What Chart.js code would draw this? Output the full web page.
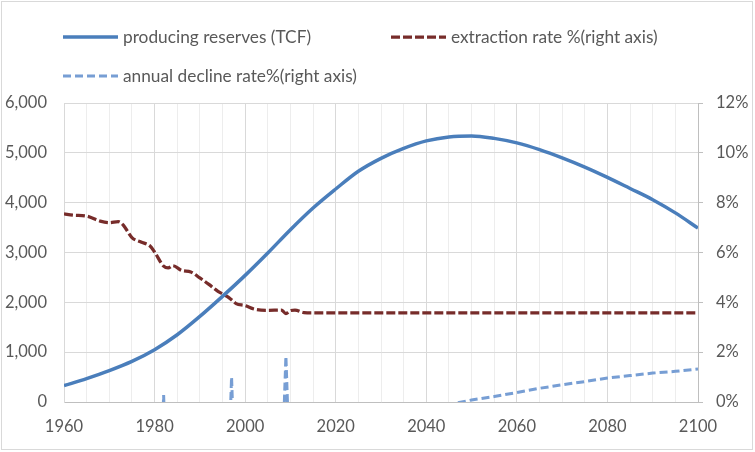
<!DOCTYPE html>
<html>
<head>
<meta charset="utf-8">
<script src="https://cdn.jsdelivr.net/npm/chart.js@4.4.1/dist/chart.umd.min.js"></script>
<style>
  html, body { margin: 0; padding: 0; background: #fff; }
  #wrap { position: relative; width: 755px; height: 452px; }
</style>
</head>
<body>
<div id="wrap"><canvas id="lineChart"></canvas></div>
<script>
// producing reserves, 5-year steps (TCF)
var reserveYears = [1960,1965,1970,1975,1980,1985,1990,1995,2000,2005,2010,2015,2020,2025,2030,
                    2035,2040,2045,2050,2055,2060,2065,2070,2075,2080,2085,2090,2095,2100];
var reserves = [327,470,630,815,1050,1350,1718,2120,2541,2990,3458,3893,4274,4630,4890,
                5090,5240,5320,5340,5290,5200,5065,4900,4715,4508,4285,4060,3795,3490];

// extraction rate (%)
var extractionYears = [1960,1962,1965,1968,1970,1972,1973,1975,1977,1979,1980,1982,1983,1984,1986,
                       1988,1990,1992,1994,1996,1997,1998,2000,2002,2005,2008,2009,2010,2011,2013,2015,2100];
var extraction = [7.55,7.5,7.46,7.26,7.2,7.24,7.12,6.6,6.42,6.26,6.02,5.45,5.38,5.47,5.28,
                  5.22,4.98,4.72,4.44,4.24,4.1,3.95,3.87,3.73,3.68,3.69,3.55,3.67,3.69,3.59,3.58,3.58];

// annual decline rate (%), negative part is below the axis
var declineYears = [1960,1965,1970,1975,1980,1981,1982,1983,1985,1990,1995,1996,1997,1998,2000,2005,
                    2008,2009,2010,2015,2020,2025,2030,2035,2040,2045,2050,2055,2060,2065,2070,2075,
                    2080,2085,2090,2095,2100];
var decline = [-8,-8,-7,-6,-5.5,-5.5,0.28,-5.5,-5.5,-5,-4.5,-4.5,1.0,-4.5,-4.5,-4,
               -3.5,1.83,-3.5,-2.5,-1.8,-1.3,-1,-0.6,-0.3,-0.1,0.08,0.22,0.38,0.55,0.69,0.82,
               0.96,1.06,1.16,1.23,1.32];

var xTicks = [1960,1980,2000,2020,2040,2060,2080,2100];
var leftTicks = [0,1000,2000,3000,4000,5000,6000];
var rightTicks = [0,2,4,6,8,10,12];

function toPoints(xs, ys) {
    var pts = [];
    for (var i = 0; i < xs.length; i++) {
        pts.push({x: xs[i], y: ys[i]});
    }
    return pts;
}

var fontFamily = 'Lato, "Liberation Sans", sans-serif';
var textColor = '#595959';
Chart.defaults.font.family = fontFamily;
Chart.defaults.font.size = 16.5;
Chart.defaults.color = textColor;

// white background + thin frame like the spreadsheet chart
var framePlugin = {
    id: 'frame',
    beforeDraw: function (chart) {
        var ctx = chart.ctx;
        ctx.save();
        ctx.fillStyle = '#fff';
        ctx.fillRect(0, 0, chart.width, chart.height);
        ctx.strokeStyle = '#d9d9d9';
        ctx.lineWidth = 1;
        ctx.strokeRect(1.5, 1.5, chart.width - 4, chart.height - 4);
        ctx.restore();
    }
};

// legend laid out in two rows, left aligned
var legendPlugin = {
    id: 'rowLegend',
    afterDraw: function (chart) {
        var ctx = chart.ctx;
        var spots = [{x: 63, y: 37}, {x: 391, y: 37}, {x: 63, y: 76}];
        ctx.save();
        ctx.font = '17.3px ' + fontFamily;
        ctx.textBaseline = 'middle';
        chart.data.datasets.forEach(function (ds, i) {
            var p = spots[i];
            ctx.beginPath();
            ctx.strokeStyle = ds.borderColor;
            ctx.lineWidth = ds.borderWidth;
            ctx.setLineDash(ds.borderDash || []);
            ctx.moveTo(p.x, p.y);
            ctx.lineTo(p.x + 55, p.y);
            ctx.stroke();
            ctx.setLineDash([]);
            ctx.fillStyle = textColor;
            ctx.fillText(ds.label, p.x + 60, p.y);
        });
        ctx.restore();
    }
};

var chartCanvas = document.getElementById('lineChart').getContext('2d');
var lineChart = new Chart(chartCanvas, {
    type: 'line',
    data: {
        datasets: [
            {
                label: 'producing reserves (TCF)',
                data: toPoints(reserveYears, reserves),
                yAxisID: 'y',
                borderColor: '#4a7ebb',
                borderWidth: 3.5,
                pointRadius: 0,
                cubicInterpolationMode: 'monotone'
            },
            {
                label: 'extraction rate %(right axis)',
                data: toPoints(extractionYears, extraction),
                yAxisID: 'y1',
                borderColor: '#772c2a',
                borderWidth: 3.25,
                borderDash: [9, 3],
                pointRadius: 0,
                cubicInterpolationMode: 'monotone'
            },
            {
                label: 'annual decline rate%(right axis)',
                data: toPoints(declineYears, decline),
                yAxisID: 'y1',
                borderColor: '#779ed4',
                borderWidth: 3,
                borderDash: [8, 4],
                pointRadius: 0,
                tension: 0,
                clip: 0
            }
        ]
    },
    options: {
        responsive: true,
        maintainAspectRatio: false,
        animation: false,
        layout: { padding: { top: 103, left: 0, right: 0, bottom: 0 } },
        plugins: {
            legend: { display: false },
            tooltip: { enabled: false }
        },
        scales: {
            x: {
                type: 'linear',
                min: 1960,
                max: 2100,
                afterFit: function (scale) { scale.height = 50; },
                afterBuildTicks: function (scale) {
                    var t = [];
                    for (var v = scale.min; v <= scale.max; v += 5) t.push({value: v});
                    scale.ticks = t;
                },
                ticks: {
                    autoSkip: false,
                    maxRotation: 0,
                    padding: 15,
                    callback: function (v) { return xTicks.indexOf(v) >= 0 ? String(v) : ''; }
                },
                grid: {
                    drawTicks: false,
                    color: function (c) {
                        return (c.tick && xTicks.indexOf(c.tick.value) >= 0) ? '#d9d9d9' : '#ededed';
                    }
                },
                border: { color: '#bfbfbf' }
            },
            y: {
                position: 'left',
                min: 0,
                max: 6000,
                afterFit: function (scale) { scale.width = 64; },
                afterBuildTicks: function (scale) {
                    scale.ticks = leftTicks.map(function (v) { return {value: v}; });
                },
                ticks: {
                    padding: 17,
                    callback: function (v) { return v.toLocaleString('en-US'); }
                },
                grid: { drawTicks: false, color: '#d9d9d9' },
                border: { color: '#d9d9d9' }
            },
            y1: {
                position: 'right',
                min: 0,
                max: 12,
                afterFit: function (scale) { scale.width = 57; },
                afterBuildTicks: function (scale) {
                    scale.ticks = rightTicks.map(function (v) { return {value: v}; });
                },
                ticks: {
                    padding: 13,
                    callback: function (v) { return v + '%'; }
                },
                grid: { drawOnChartArea: false, tickLength: 5, color: '#bfbfbf' },
                border: { color: '#bfbfbf' }
            }
        }
    },
    plugins: [framePlugin, legendPlugin]
});
</script>
</body>
</html>
